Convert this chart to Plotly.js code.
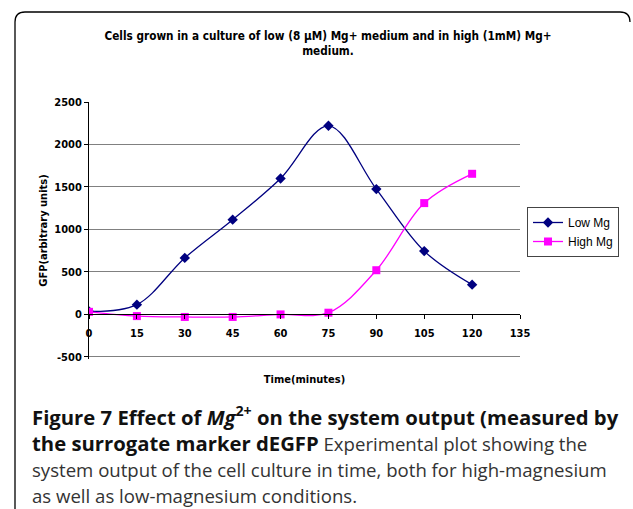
<!DOCTYPE html>
<html>
<head>
<meta charset="utf-8">
<script src="https://cdn.plot.ly/plotly-3.0.1.min.js"></script>
<style>html,body{margin:0;padding:0;background:#fff;}#chart{width:633px;height:509px;}</style>
</head>
<body>
<div id="chart"></div>
<script>
// ---- data ----
const timeMinutes = [0, 15, 30, 45, 60, 75, 90, 105, 120];
const lowMg = [35, 115, 665, 1115, 1600, 2220, 1475, 745, 350];
const highMg = [30, -20, -30, -30, 0, 20, 520, 1310, 1655];
const xTicks = [0, 15, 30, 45, 60, 75, 90, 105, 120, 135];
const yTicks = [-500, 0, 500, 1000, 1500, 2000, 2500];
const seriesNames = ["Low Mg", "High Mg"];

// ---- layout geometry (pixels) ----
const W = 633, H = 509;
const M = {l: 89, r: 113, t: 102, b: 150};
const PW = W - M.l - M.r, PH = H - M.t - M.b;
const px = v => (v - M.l) / PW;           // pixel x -> paper x
const py = v => (H - M.b - v) / PH;       // pixel y -> paper y
// range padded a little below the lowest tick so its gridline is not culled at the edge
const yMin = -525, yMax = 2500;

const chartFont = "'Liberation Sans Narrow', 'DejaVu Sans Condensed', 'Liberation Sans', Arial, sans-serif";
const plainFont = "'Liberation Sans', Arial, sans-serif";

const traces = [
  {x: timeMinutes, y: lowMg, name: seriesNames[0], type: 'scatter', mode: 'lines+markers',
   xaxis: 'x', yaxis: 'y',
   line: {color: '#000080', width: 1.3, shape: 'spline', smoothing: 1},
   marker: {symbol: 'diamond', size: 8, color: '#000080'}},
  {x: timeMinutes, y: highMg, name: seriesNames[1], type: 'scatter', mode: 'lines+markers',
   xaxis: 'x2', yaxis: 'y',
   line: {color: '#FF00FF', width: 1.3, shape: 'spline', smoothing: 1},
   marker: {symbol: 'square', size: 8, color: '#FF00FF'}}
];

// border path (rounded frame around the figure)
const r = 10, bx0 = 15, by0 = 12, bx1 = 630;
const borderPath = `M ${px(bx0)} ${py(H+2)} L ${px(bx0)} ${py(by0+r)} Q ${px(bx0)} ${py(by0)} ${px(bx0+r)} ${py(by0)} L ${px(bx1-r)} ${py(by0)} Q ${px(bx1)} ${py(by0)} ${px(bx1)} ${py(by0+r)}`;

const boldSpan = t => `<b><span style="font-size:20.3px;color:#111">${t}</span></b>`;
const regSpan = t => `<span style="font-size:18.6px">${t}</span>`;

const layout = {
  width: W, height: H,
  margin: M,
  paper_bgcolor: '#fff', plot_bgcolor: '#fff',
  showlegend: true,
  title: {
    text: '<b>Cells grown in a culture of low (8 µM) Mg+ medium and in high (1mM) Mg+<br>medium.</b>',
    font: {family: chartFont, size: 11.7, color: '#000'},
    x: 328 / W, xref: 'container', xanchor: 'center',
    y: 1 - 40 / H, yref: 'container', yanchor: 'top'
  },
  // base x axis (bottom of plot area) carries the axis title only
  xaxis: {
    range: [0, 135], anchor: 'y', side: 'bottom',
    showline: false, showticklabels: false, ticks: '', showgrid: false, zeroline: false,
    title: {text: '<b>Time(minutes)</b>', font: {family: chartFont, size: 11, color: '#000'}, standoff: 16},
    fixedrange: true
  },
  // category axis crossing at y = 0
  xaxis2: {
    range: [0, 135], tickvals: xTicks, ticktext: xTicks.map(String),
    overlaying: 'x', anchor: 'free', position: (0 - yMin) / (yMax - yMin), side: 'bottom',
    showline: true, linecolor: '#000', linewidth: 1,
    ticks: 'outside', ticklen: 4, tickcolor: '#000', ticklabelstandoff: 4,
    showgrid: false, zeroline: false,
    tickfont: {family: chartFont, size: 11, color: '#000', weight: 'bold'},
    fixedrange: true
  },
  yaxis: {
    range: [yMin, yMax], tickvals: yTicks, ticktext: yTicks.map(String),
    showline: true, linecolor: '#000', linewidth: 1,
    ticks: 'outside', ticklen: 4, tickcolor: '#000',
    showgrid: true, gridcolor: '#808080', gridwidth: 1, zeroline: false,
    tickfont: {family: chartFont, size: 11, color: '#000', weight: 'bold'},
    title: {text: '<b>GFP(arbitrary units)</b>', font: {family: chartFont, size: 11, color: '#000'}, standoff: 4},
    fixedrange: true
  },
  legend: {
    x: px(527), y: py(207), xanchor: 'left', yanchor: 'top',
    bgcolor: '#fff', bordercolor: '#444', borderwidth: 1,
    font: {family: plainFont, size: 12, color: '#000'},
    tracegroupgap: 0, itemwidth: 30
  },
  shapes: [
    {type: 'path', xref: 'paper', yref: 'paper', path: borderPath,
     line: {color: '#000', width: 1.3}}
  ],
  annotations: [
    {xref: 'paper', yref: 'paper', x: px(30), y: py(399), xanchor: 'left', yanchor: 'top',
     align: 'left', showarrow: false,
     font: {family: "'Open Sans', 'Noto Sans', sans-serif", size: 20, color: '#333'},
     text: boldSpan('Figure 7 Effect of <i>Mg</i><sup>2+</sup> on the system output (measured by') + '<br>' +
           boldSpan('the surrogate marker dEGFP') + regSpan(' Experimental plot showing the') + '<br>' +
           regSpan('system output of the cell culture in time, both for high-magnesium') + '<br>' +
           regSpan('as well as low-magnesium conditions.')}
  ]
};

Plotly.newPlot('chart', traces, layout, {displayModeBar: false, staticPlot: true});
</script>
</body>
</html>
